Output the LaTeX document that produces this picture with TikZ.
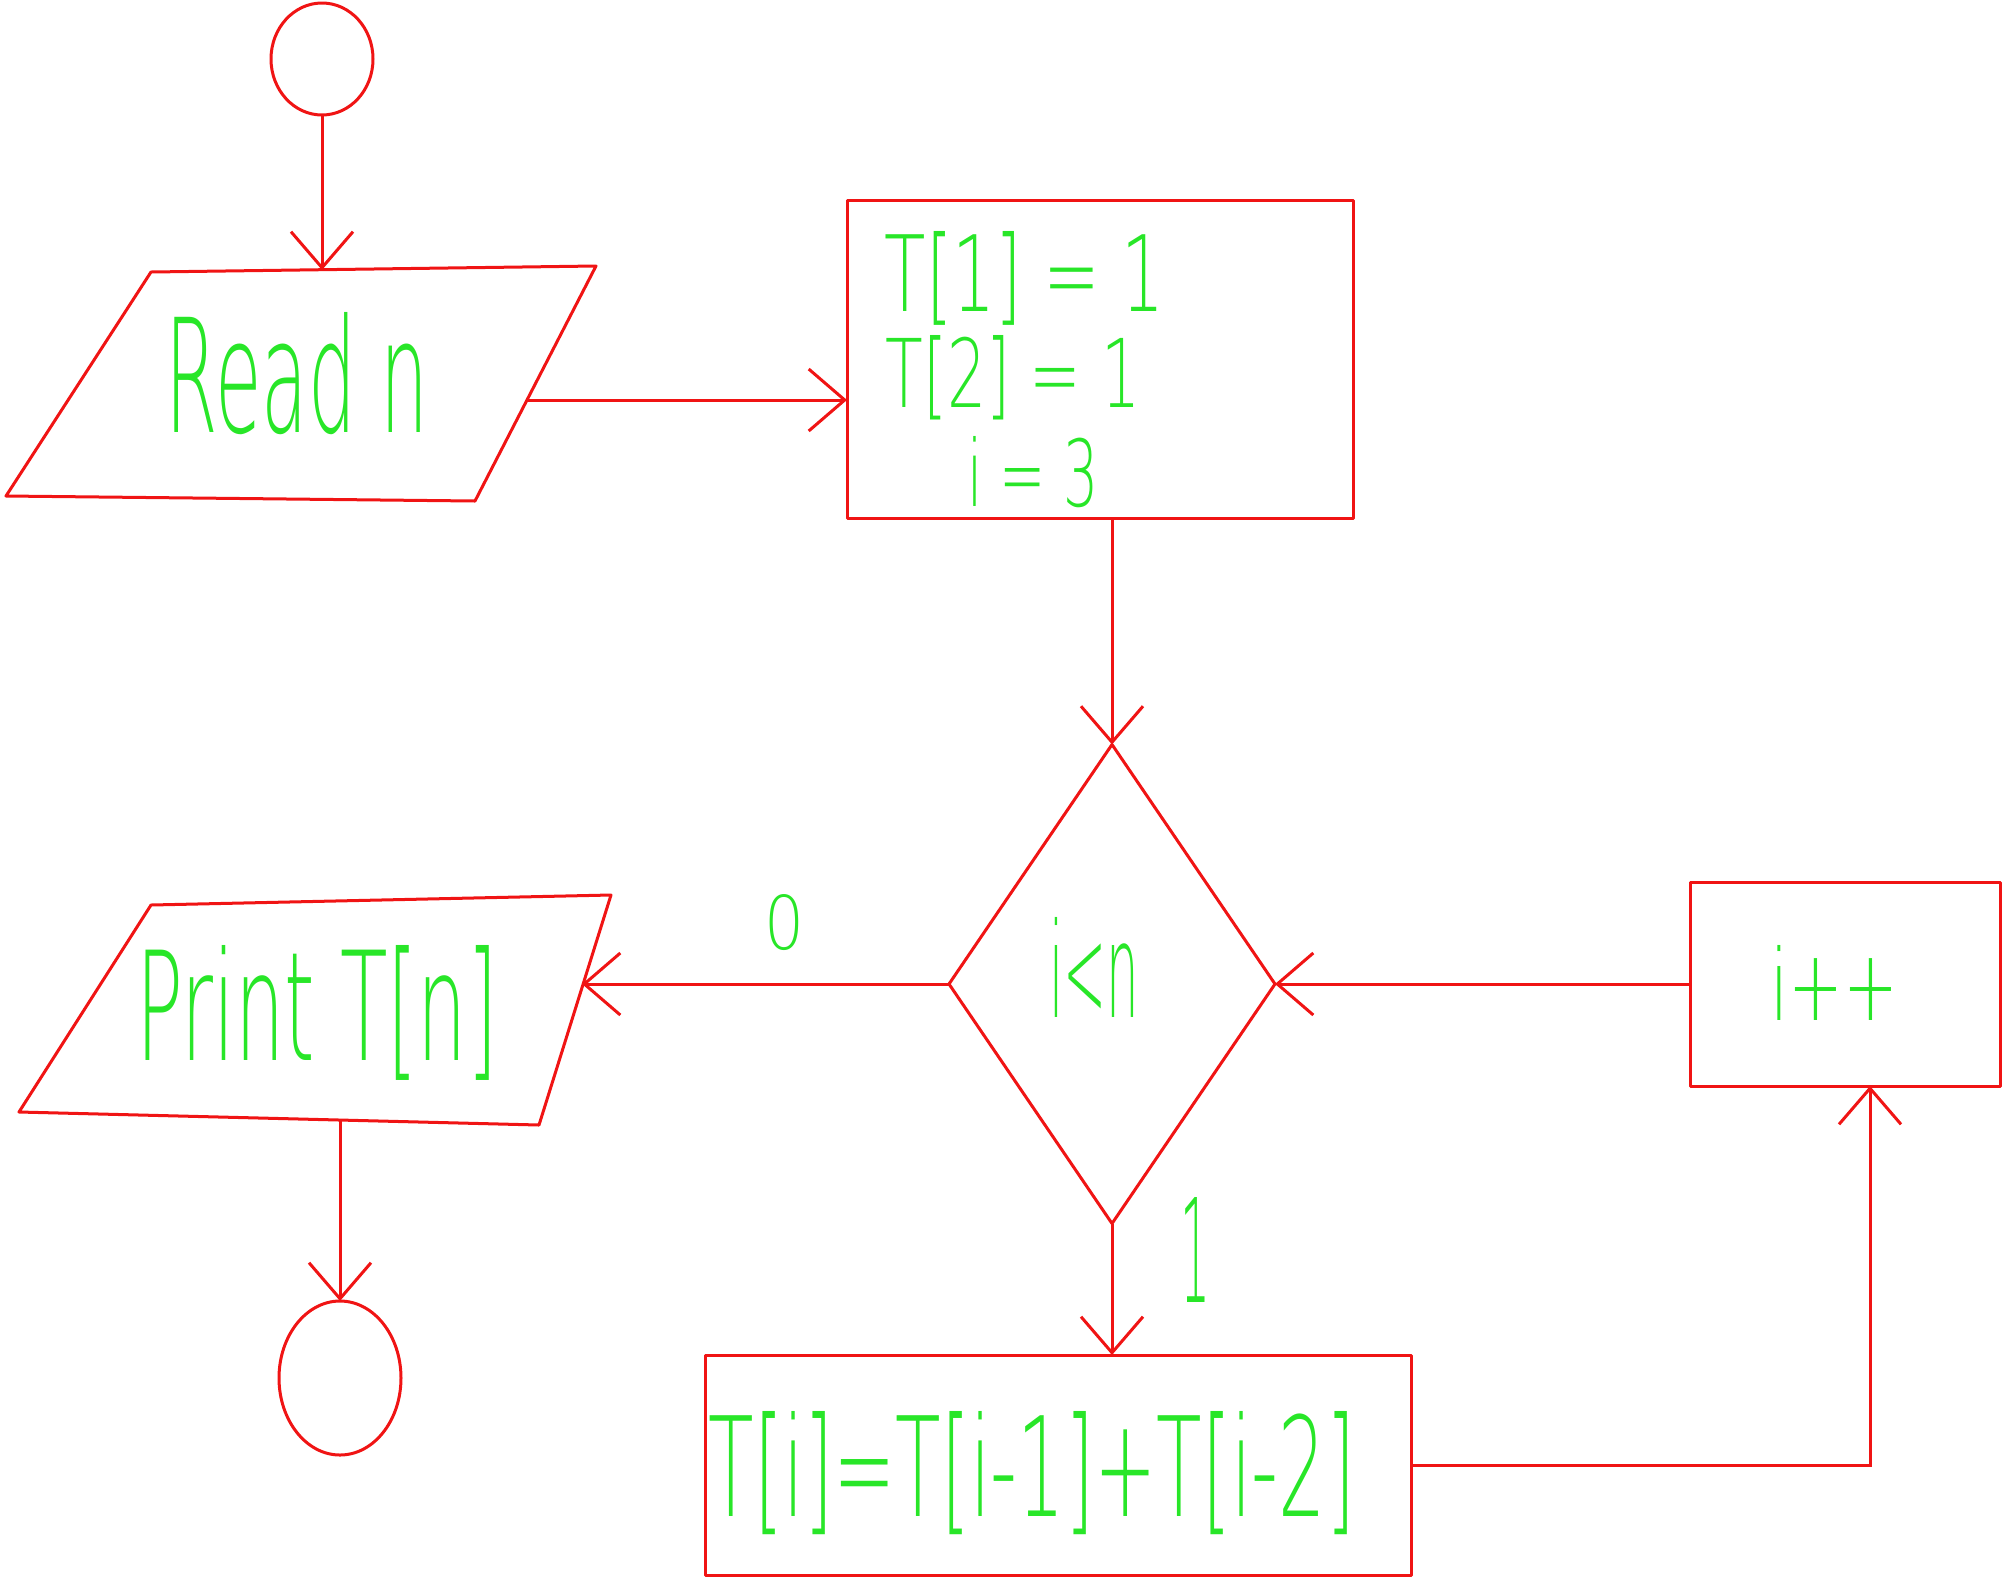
\documentclass[tikz,border=0pt]{standalone}
\usepackage{fontspec}
\usepackage{graphicx}
\usetikzlibrary{shapes.geometric,arrows.meta}
\newfontfamily\hand{DejaVu Sans}[UprightFont={* ExtraLight}]
\definecolor{inkred}{RGB}{240,20,20}
\definecolor{inkgreen}{RGB}{40,230,40}
% text squeezed into a given width x height box
\newcommand{\hw}[3]{\resizebox{#1pt}{#2pt}{\hand #3}}
\tikzset{
  shp/.style={draw=inkred, line width=3pt, inner sep=0pt, outer sep=0pt,
    line join=round},
  box/.style={shp, rectangle},
  term/.style={shp, ellipse},
  test/.style={shp, diamond},
  lbl/.style={text=inkgreen, inner sep=0pt},
  arr/.style={draw=inkred, line width=3pt,
    -{Straight Barb[length=36pt,width=62pt]}},
}
\begin{document}
\begin{tikzpicture}[x=1pt,y=-1pt]
\useasboundingbox (0,0) rectangle (2004,1580);

% terminals, boxes and the test
\node[term, minimum width=102pt, minimum height=112pt] (start) at (322,59) {};
\node[box, minimum width=506pt, minimum height=318pt] (init) at (1100,359) {};
\node[test, minimum width=326pt, minimum height=479pt] (dia) at (1112,984) {};
\node[term, minimum width=122pt, minimum height=154pt] (end) at (340,1378) {};
\node[box, minimum width=706pt, minimum height=220pt] (calc) at (1058,1465) {};
\node[box, minimum width=310pt, minimum height=204pt] (inc) at (1845,984) {};

% input / output parallelograms
\coordinate (readNW) at (151,272);
\coordinate (readNE) at (596,266);
\coordinate (readSE) at (475,501);
\coordinate (readSW) at (6,496);
\draw[shp] (readNW) -- (readNE) -- (readSE) -- (readSW) -- cycle;
\coordinate (readtop) at (322,270);
\coordinate (readright) at (527,400);

\coordinate (printNW) at (151,905);
\coordinate (printNE) at (611,895);
\coordinate (printSE) at (539,1125);
\coordinate (printSW) at (19,1112);
\draw[shp] (printNW) -- (printNE) -- (printSE) -- (printSW) -- cycle;
\coordinate (printright) at (582,984);
\coordinate (printbottom) at (340,1120);

% texts
\node[lbl] (tread) at (297,374) {\hw{262}{120}{Read n}};
\node[lbl] (tinit1) at (1025,278) {\hw{280}{80}{T[1] = 1}};
\node[lbl] (tinit2) at (1013,378) {\hw{255}{72}{T[2] = 1}};
\node[lbl] (tinit3) at (1033,472) {\hw{132}{70}{i = 3}};
\node[lbl] (ttest) at (1094,967) {\hw{90}{100}{i<n}};
\node[lbl] (tprint) at (317,1013) {\hw{361}{115}{Print T[n]}};
\node[lbl] (tcalc) at (1032,1473) {\hw{646}{105}{T[i]=T[i-1]+T[i-2]}};
\node[lbl] (tinc) at (1834,983) {\hw{128}{75}{i++}};
\node[lbl] (lzero) at (784,923) {\hw{40}{55}{0}};
\node[lbl] (lone) at (1195,1250) {\hw{30}{105}{1}};

% connectors
\draw[arr] (start.south) -- (start.south |- readtop);
\draw[arr] (readright) -- (readright -| init.west);
\draw[arr] (dia.north |- init.south) -- (dia.north);
\draw[arr] (dia.west) -- (dia.west -| printright);
\draw[arr] (printbottom) -- (end.north);
\draw[arr] (dia.south) -- (dia.south |- calc.north);
\draw[arr] (calc.east) -| ([xshift=25pt]inc.south);
\draw[arr] (inc.west) -- (dia.east);
\end{tikzpicture}
\end{document}
